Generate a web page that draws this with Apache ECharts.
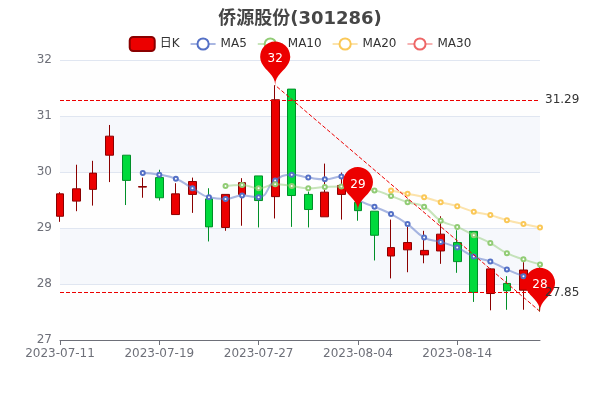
<!DOCTYPE html>
<html>
<head>
<meta charset="utf-8">
<title>侨源股份(301286)</title>
<script src="https://cdn.jsdelivr.net/npm/echarts@6/dist/echarts.min.js"></script>
<style>
  html, body { margin: 0; padding: 0; background: #fff; }
  #chart { width: 600px; height: 400px; }
</style>
</head>
<body>
<div id="chart"></div>
<script>
// 日期
const dates = [
  '2023-07-11', '2023-07-12', '2023-07-13', '2023-07-14', '2023-07-17',
  '2023-07-18', '2023-07-19', '2023-07-20', '2023-07-21', '2023-07-24',
  '2023-07-25', '2023-07-26', '2023-07-27', '2023-07-28', '2023-07-31',
  '2023-08-01', '2023-08-02', '2023-08-03', '2023-08-04', '2023-08-07',
  '2023-08-08', '2023-08-09', '2023-08-10', '2023-08-11', '2023-08-14',
  '2023-08-15', '2023-08-16', '2023-08-17', '2023-08-18', '2023-08-21'
];
// 开盘 / 收盘 / 最低 / 最高
const openPrices = [
  29.21, 29.48, 29.69, 30.30, 30.30, 29.73, 29.90, 29.24, 29.60, 29.52,
  29.01, 29.60, 29.93, 29.56, 31.48, 29.60, 29.20, 29.60, 29.46, 29.30,
  28.50, 28.61, 28.52, 28.59, 28.74, 28.94, 27.83, 28.01, 27.89, 28.20
];
const closePrices = [
  29.61, 29.70, 29.98, 30.64, 29.85, 29.74, 29.54, 29.61, 29.83, 29.02,
  29.60, 29.81, 29.49, 31.29, 29.58, 29.33, 29.64, 29.76, 29.31, 28.87,
  28.65, 28.74, 28.60, 28.89, 28.40, 27.85, 28.27, 27.88, 28.25, 27.90
];
const lowPrices = [
  29.11, 29.30, 29.40, 29.82, 29.41, 29.54, 29.49, 29.24, 29.27, 28.76,
  28.95, 29.04, 29.01, 29.17, 29.02, 29.01, 29.20, 29.15, 29.13, 28.42,
  28.10, 28.21, 28.37, 28.36, 28.20, 27.68, 27.53, 27.54, 27.54, 27.51
];
const highPrices = [
  29.64, 30.13, 30.20, 30.84, 30.30, 29.90, 30.04, 29.80, 29.90, 29.71,
  29.60, 29.89, 29.93, 31.55, 31.48, 29.65, 30.15, 29.99, 29.48, 29.30,
  29.15, 29.02, 28.95, 29.21, 28.96, 28.94, 28.28, 28.14, 28.39, 28.30
];
// 均线
const ma5 = [
  '-', '-', '-', '-', '-', 29.98, 29.95, 29.88, 29.71, 29.55,
  29.52, 29.58, 29.55, 29.85, 29.95, 29.90, 29.87, 29.92, 29.52, 29.38,
  29.25, 29.07, 28.83, 28.75, 28.65, 28.49, 28.40, 28.26, 28.14, 28.04
];
const ma10 = [
  '-', '-', '-', '-', '-', '-', '-', '-', '-', '-',
  29.75, 29.77, 29.71, 29.78, 29.75, 29.71, 29.73, 29.74, 29.69, 29.67,
  29.57, 29.46, 29.38, 29.13, 29.02, 28.87, 28.73, 28.55, 28.44, 28.35
];
const ma20 = [
  '-', '-', '-', '-', '-', '-', '-', '-', '-', '-',
  '-', '-', '-', '-', '-', '-', '-', '-', '-', '-',
  29.67, 29.61, 29.55, 29.46, 29.39, 29.29, 29.23, 29.14, 29.07, 29.01
];
const ma30 = dates.map(() => '-');

const upColor = '#ec0000';
const upBorderColor = '#8A0000';
const downColor = '#00da3c';
const downBorderColor = '#008F28';
const fontFamily = 'DejaVu Sans, Noto Sans CJK SC, sans-serif';

// candlestick 需要 [open, close, lowest, highest]
const kData = dates.map((d, i) => [openPrices[i], closePrices[i], lowPrices[i], highPrices[i]]);

function maSeries(name, data, color) {
  return {
    name: name,
    type: 'line',
    data: data,
    smooth: true,
    symbol: 'emptyCircle',
    symbolSize: 4,
    itemStyle: { color: color },
    lineStyle: { color: color, opacity: 0.5, width: 2 }
  };
}

const chart = echarts.init(document.getElementById('chart'));
const option = {
  animation: false,
  textStyle: { fontFamily: fontFamily },
  title: {
    text: '侨源股份(301286)',
    left: 'center',
    top: 5,
    textStyle: { fontSize: 18, fontWeight: 'bold', color: '#464646', fontFamily: fontFamily }
  },
  legend: {
    top: 31,
    itemGap: 10,
    itemWidth: 25,
    itemHeight: 14,
    textStyle: { fontSize: 12, color: '#333', fontFamily: fontFamily },
    data: ['日K', 'MA5', 'MA10', 'MA20', 'MA30']
  },
  grid: {
    left: '10%',
    right: '10%',
    top: 60,
    bottom: '15%'
  },
  xAxis: {
    type: 'category',
    data: dates,
    boundaryGap: false,
    axisLine: { onZero: false, lineStyle: { color: '#6E7079' } },
    splitLine: { show: false },
    axisLabel: { interval: 5, color: '#6E7079', fontSize: 12 },
    min: 'dataMin',
    max: 'dataMax'
  },
  yAxis: {
    scale: true,
    min: 27,
    max: 32,
    interval: 1,
    axisLabel: { color: '#6E7079', fontSize: 12 },
    splitLine: { lineStyle: { color: '#E0E6F1' } },
    splitArea: {
      show: true,
      areaStyle: { color: ['rgba(250,250,250,0.2)', 'rgba(210,219,238,0.2)'] }
    }
  },
  series: [
    {
      name: '日K',
      type: 'candlestick',
      data: kData,
      itemStyle: {
        color: upColor,
        color0: downColor,
        borderColor: upBorderColor,
        borderColor0: downBorderColor
      },
      markPoint: {
        itemStyle: { color: upColor },
        label: {
          color: '#fff',
          formatter: function (param) {
            return param != null ? Math.round(param.value) + '' : '';
          }
        },
        data: [
          { name: 'highest value', type: 'max', valueDim: 'highest' },
          { name: 'lowest value', type: 'min', valueDim: 'lowest' },
          { name: 'average value on close', type: 'average', valueDim: 'close' }
        ]
      },
      markLine: {
        symbol: ['none', 'none'],
        lineStyle: { color: upColor, type: 'dashed', width: 1 },
        label: { color: '#333', fontSize: 12 },
        data: [
          [
            { name: 'from lowest to highest', type: 'min', valueDim: 'lowest', symbol: 'none', label: { show: false } },
            { type: 'max', valueDim: 'highest', symbol: 'none', label: { show: false } }
          ],
          { name: 'min line on close', type: 'min', valueDim: 'close' },
          { name: 'max line on close', type: 'max', valueDim: 'close' }
        ]
      }
    },
    maSeries('MA5', ma5, '#5470c6'),
    maSeries('MA10', ma10, '#91cc75'),
    maSeries('MA20', ma20, '#fac858'),
    maSeries('MA30', ma30, '#ee6666')
  ]
};
chart.setOption(option);
</script>
</body>
</html>
